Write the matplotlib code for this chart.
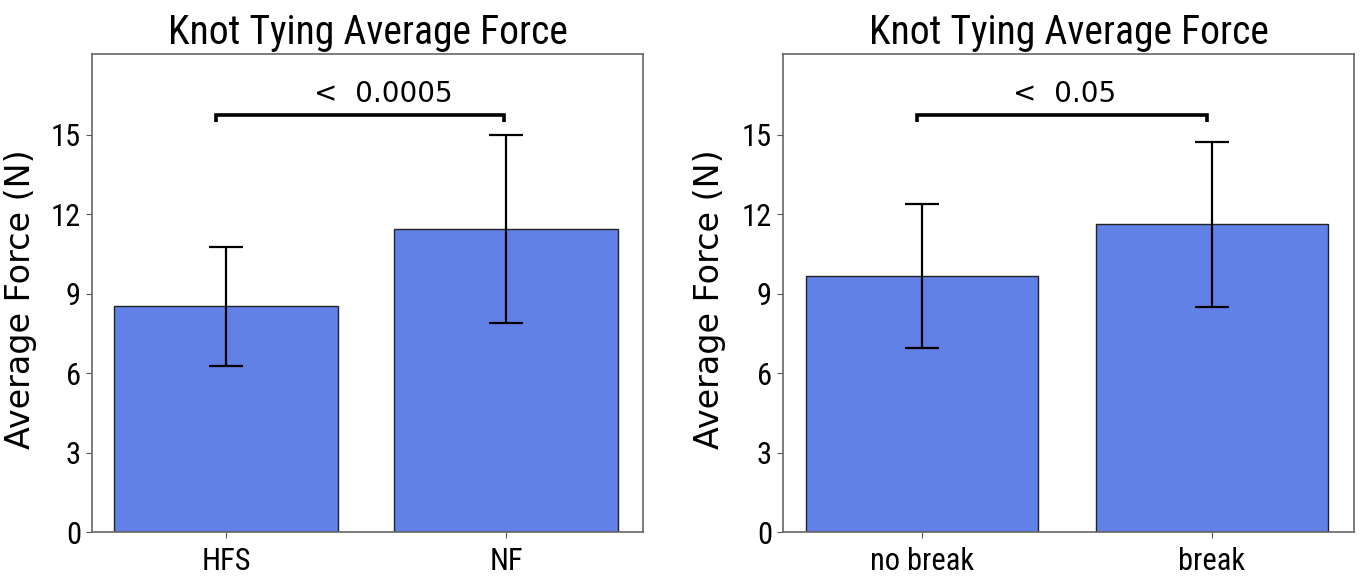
import numpy as np
import matplotlib
matplotlib.use('Agg')
import matplotlib.pyplot as plt

# data
left_labels = ['HFS', 'NF']
left_means = [8.52, 11.45]
left_errs = [2.25, 3.55]
left_p = '<  0.0005'

right_labels = ['no break', 'break']
right_means = [9.66, 11.62]
right_errs = [2.72, 3.12]
right_p = '<  0.05'

title = 'Knot Tying Average Force'
ylabel = 'Average Force (N)'
yticks = [0, 3, 6, 9, 12, 15]

bar_color = '#6281e6'
narrow = ['Roboto Condensed', 'Liberation Sans Narrow', 'DejaVu Sans']

W, H = 1361, 582
fig = plt.figure(figsize=(W / 100, H / 100), dpi=100)

# axes boxes in pixels: left, right edge
boxes = [(92, 643), (783, 1354)]
top, bottom = 54, 532


def draw_panel(ax, labels, means, errs, ptext, bx0, bx1, tx):
    x = np.arange(len(labels))
    ax.bar(x, means, width=0.8, color=bar_color, edgecolor='#222222', linewidth=1.0,
           yerr=errs, capsize=12, error_kw=dict(ecolor='black', elinewidth=1.6, capthick=1.6))
    ax.set_xlim(-0.48, 1.49)
    ax.set_ylim(0, 18.05)
    ax.set_yticks(yticks)
    ax.set_xticks(x)
    ax.set_xticklabels(labels)
    for lab in ax.get_xticklabels() + ax.get_yticklabels():
        lab.set_family(narrow)
        lab.set_stretch('condensed')
        lab.set_fontsize(22)
    ax.tick_params(length=4, color='#555555', pad=4)
    ax.tick_params(axis='x', pad=7)
    for s in ax.spines.values():
        s.set_color('#666666')
        s.set_linewidth(1.2)
    ax.set_title(title, family=narrow, fontstretch='condensed', fontsize=28.5, pad=7)
    ax.set_ylabel(ylabel, fontsize=24, family='DejaVu Sans')
    ax.yaxis.set_label_coords(-0.1, 0.487)

    # significance bracket
    ax.plot([bx0, bx0, bx1, bx1], [15.5, 15.76, 15.76, 15.5], color='black', lw=2.6,
            solid_capstyle='butt', solid_joinstyle='miter')
    ax.text(tx, 16.25, ptext, ha='center', va='baseline', fontsize=20, family='DejaVu Sans')


for i, (l, r) in enumerate(boxes):
    ax = fig.add_axes([l / W, (H - bottom) / H, (r - l) / W, (bottom - top) / H])
    if i == 0:
        draw_panel(ax, left_labels, left_means, left_errs, left_p, -0.036, 0.993, 0.56)
    else:
        draw_panel(ax, right_labels, right_means, right_errs, right_p, -0.017, 0.983, 0.49)

fig.savefig('out.png', dpi=100)
